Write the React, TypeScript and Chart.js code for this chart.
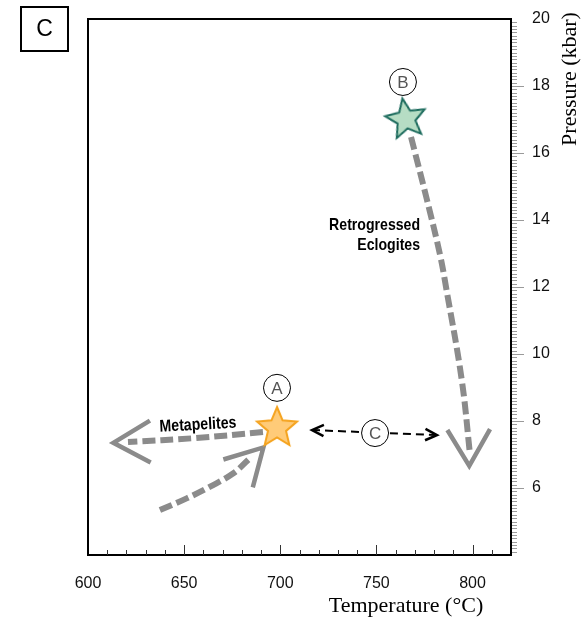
import { useEffect, useRef } from 'react';
import { Chart, registerables } from 'chart.js';

Chart.register(...registerables);

// Axis ranges and tick labels
const tempRange = [600, 820];
const pressureRange = [4, 20];
const tempTicks = [600, 650, 700, 750, 800];
const pressureTicks = [6, 8, 10, 12, 14, 16, 18, 20];

// Peak conditions (stars)
const starATemp = 698.3;
const starAPress = 7.79;
const starBTemp = 765.4;
const starBPress = 17.01;

// Circled labels
const circleLetters = ['A', 'B', 'C'];
const circleTemp = [698.3, 763.8, 749.3];
const circlePress = [8.99, 18.12, 7.64];

// Metapelites retrograde path and its arrowhead
const metaTemp = [691.0, 655.7, 620.8];
const metaPress = [7.67, 7.49, 7.37];
const metaHeadTemp = [632.2, 613.2, 632.6];
const metaHeadPress = [8.01, 7.35, 6.76];

// Metapelites prograde path and its arrowhead
const progTemp = [637.4, 651.3, 663.5, 675.6, 683.4];
const progPress = [5.34, 5.69, 6.04, 6.44, 6.84];
const progHeadTemp = [670.4, 691.2, 685.7];
const progHeadPress = [6.85, 7.21, 6.02];

// Retrogressed eclogites path and its arrowhead
const eclTemp = [768.0, 776.3, 783.1, 786.2, 794.4, 798.7];
const eclPress = [16.48, 14.6, 12.96, 12.0, 9.22, 6.99];
const eclHeadTemp = [786.9, 798.3, 809.1];
const eclHeadPress = [7.73, 6.66, 7.76];

// Temperature gap between the two groups
const gapTemp = [716.5, 781.5];
const gapPress = [7.73, 7.58];

// Path labels
const metaLabel = { text: 'Metapelites', t: 657.2, p: 7.88 };
const eclLabelLines = ['Retrogressed', 'Eclogites'];
const eclLabelTemp = 772.7;
const eclLabelPress = [13.85, 13.25];

const SANS = '"Liberation Sans", Arial, sans-serif';
const SERIF = '"Liberation Serif", "Times New Roman", serif';
const PATH_GRAY = '#8b8b8b';

const pts = (xs: number[], ys: number[]) => xs.map((x, i) => ({ x, y: ys[i] }));

function makeStar(fill: string, stroke: string, R: number, r: number) {
  const size = Math.ceil(2 * R + 6);
  const c = document.createElement('canvas');
  c.width = size;
  c.height = size;
  const g = c.getContext('2d')!;
  const cx = size / 2;
  const cy = size / 2;
  g.beginPath();
  for (let i = 0; i < 10; i++) {
    const rad = i % 2 === 0 ? R : r;
    const ang = -Math.PI / 2 + (i * Math.PI) / 5;
    g.lineTo(cx + rad * Math.cos(ang), cy + rad * Math.sin(ang));
  }
  g.closePath();
  g.fillStyle = fill;
  g.fill();
  g.lineWidth = 2;
  g.lineJoin = 'miter';
  g.strokeStyle = stroke;
  g.stroke();
  return c;
}

const overlay = {
  id: 'overlay',
  afterDraw(chart: any) {
    const { ctx, chartArea: a } = chart;
    const xs = chart.scales.x;
    const ys = chart.scales.y;
    ctx.save();

    // plot frame
    ctx.strokeStyle = '#000';
    ctx.lineWidth = 2;
    ctx.strokeRect(a.left, a.top, a.right - a.left, a.bottom - a.top);

    // temperature ticks, pointing inward
    ctx.lineWidth = 1;
    ctx.strokeStyle = '#333';
    for (let v = 610; v < tempRange[1]; v += 10) {
      const px = Math.round(xs.getPixelForValue(v)) + 0.5;
      const len = v % 50 === 0 ? 10 : 5;
      ctx.beginPath();
      ctx.moveTo(px, a.bottom);
      ctx.lineTo(px, a.bottom - len);
      ctx.stroke();
    }

    // pressure ticks, outward on the right axis
    ctx.strokeStyle = '#9a9a9a';
    for (let i = 41; i < 200; i++) {
      const py = Math.round(ys.getPixelForValue(i / 10)) + 0.5;
      const len = i % 20 === 0 ? 12 : 5;
      ctx.beginPath();
      ctx.moveTo(a.right + 1, py);
      ctx.lineTo(a.right + 1 + len, py);
      ctx.stroke();
    }

    // axis titles
    ctx.fillStyle = '#000';
    ctx.font = `22px ${SERIF}`;
    ctx.textAlign = 'center';
    ctx.textBaseline = 'alphabetic';
    ctx.fillText('Temperature (°C)', 406, 612);
    ctx.save();
    ctx.translate(576, 79);
    ctx.rotate(-Math.PI / 2);
    ctx.fillText('Pressure (kbar)', 0, 0);
    ctx.restore();

    // panel letter
    ctx.lineWidth = 2;
    ctx.strokeStyle = '#000';
    ctx.strokeRect(21, 7, 47, 44);
    ctx.font = `23px ${SANS}`;
    ctx.textBaseline = 'middle';
    ctx.fillText('C', 44.5, 30);

    // open arrowheads on the gap line
    const g0 = { x: xs.getPixelForValue(gapTemp[0]), y: ys.getPixelForValue(gapPress[0]) };
    const g1 = { x: xs.getPixelForValue(gapTemp[1]), y: ys.getPixelForValue(gapPress[1]) };
    const head = (tip: any, from: any) => {
      const ang = Math.atan2(from.y - tip.y, from.x - tip.x);
      const L = 13;
      const s = 0.45;
      ctx.beginPath();
      ctx.moveTo(tip.x + L * Math.cos(ang + s), tip.y + L * Math.sin(ang + s));
      ctx.lineTo(tip.x, tip.y);
      ctx.lineTo(tip.x + L * Math.cos(ang - s), tip.y + L * Math.sin(ang - s));
      ctx.stroke();
    };
    ctx.setLineDash([]);
    ctx.lineWidth = 2.5;
    ctx.lineJoin = 'miter';
    head(g0, g1);
    head(g1, g0);

    // circled letters
    ctx.fillStyle = '#555';
    ctx.font = `17px ${SANS}`;
    ctx.textAlign = 'center';
    ctx.textBaseline = 'middle';
    circleLetters.forEach((l, i) => {
      ctx.fillText(l, xs.getPixelForValue(circleTemp[i]), ys.getPixelForValue(circlePress[i]) + 1);
    });

    // path labels
    ctx.fillStyle = '#000';
    ctx.font = `bold 17px ${SANS}`;
    ctx.save();
    ctx.translate(xs.getPixelForValue(metaLabel.t), ys.getPixelForValue(metaLabel.p));
    ctx.rotate((-3 * Math.PI) / 180);
    ctx.scale(0.83, 1);
    ctx.textAlign = 'center';
    ctx.fillText(metaLabel.text, 0, 0);
    ctx.restore();
    eclLabelLines.forEach((line, i) => {
      ctx.save();
      ctx.translate(xs.getPixelForValue(eclLabelTemp), ys.getPixelForValue(eclLabelPress[i]));
      ctx.scale(0.83, 1);
      ctx.textAlign = 'right';
      ctx.fillText(line, 0, 0);
      ctx.restore();
    });

    ctx.restore();
  },
};

export default function App() {
  const ref = useRef<HTMLCanvasElement>(null);

  useEffect(() => {
    const starA = makeStar('#FFCB78', '#F5A31E', 21, 9.5);
    const starB = makeStar('#B6DDC4', '#1C6B5D', 21, 9.5);

    const dashed = (data: any[]) => ({
      data,
      showLine: true,
      borderColor: PATH_GRAY,
      borderWidth: 6,
      borderDash: [13, 5],
      borderCapStyle: 'butt',
      tension: 0.4,
      pointRadius: 0,
      fill: false,
    });
    const chevron = (data: any[]) => ({
      data,
      showLine: true,
      borderColor: PATH_GRAY,
      borderWidth: 4.5,
      borderJoinStyle: 'miter',
      tension: 0,
      pointRadius: 0,
      fill: false,
    });

    const chart = new Chart(ref.current!, {
      type: 'scatter',
      data: {
        datasets: [
          {
            data: pts(circleTemp, circlePress),
            pointStyle: 'circle',
            pointRadius: 13.5,
            backgroundColor: '#fff',
            borderColor: '#000',
            borderWidth: 1,
          },
          { data: [{ x: starATemp, y: starAPress }], pointStyle: starA, pointRadius: 21 },
          { data: [{ x: starBTemp, y: starBPress }], pointStyle: starB, pointRadius: 21, rotation: -10 },
          {
            data: pts(gapTemp, gapPress),
            showLine: true,
            borderColor: '#000',
            borderWidth: 2,
            borderDash: [8, 5],
            pointRadius: 0,
          },
          dashed(pts(metaTemp, metaPress)),
          chevron(pts(metaHeadTemp, metaHeadPress)),
          dashed(pts(progTemp, progPress)),
          chevron(pts(progHeadTemp, progHeadPress)),
          dashed(pts(eclTemp, eclPress)),
          chevron(pts(eclHeadTemp, eclHeadPress)),
        ] as any,
      },
      options: {
        responsive: false,
        animation: false,
        devicePixelRatio: 1,
        layout: { autoPadding: false, padding: { left: 88, top: 19, right: 0, bottom: 0 } },
        plugins: { legend: { display: false }, tooltip: { enabled: false } },
        scales: {
          x: {
            type: 'linear',
            min: tempRange[0],
            max: tempRange[1],
            position: 'bottom',
            grid: { display: false, drawTicks: true, tickLength: 19 },
            border: { display: false },
            afterBuildTicks: (s: any) => {
              s.ticks = tempTicks.map((v) => ({ value: v }));
            },
            afterFit: (s: any) => {
              s.height = 63;
            },
            ticks: {
              padding: 0,
              autoSkip: false,
              maxRotation: 0,
              color: '#111',
              font: { family: SANS, size: 16 },
            },
          },
          y: {
            type: 'linear',
            min: pressureRange[0],
            max: pressureRange[1],
            position: 'right',
            grid: { display: false, drawTicks: true, tickLength: 21 },
            border: { display: false },
            afterBuildTicks: (s: any) => {
              s.ticks = pressureTicks.map((v) => ({ value: v }));
            },
            afterFit: (s: any) => {
              s.width = 74;
            },
            ticks: {
              padding: 0,
              autoSkip: false,
              color: '#111',
              font: { family: SANS, size: 16 },
            },
          },
        },
      } as any,
      plugins: [overlay],
    });
    return () => chart.destroy();
  }, []);

  return (
    <div style={{ position: 'absolute', left: 0, top: 0, width: 585, height: 618 }}>
      <canvas ref={ref} width={585} height={618} style={{ display: 'block' }} />
    </div>
  );
}
